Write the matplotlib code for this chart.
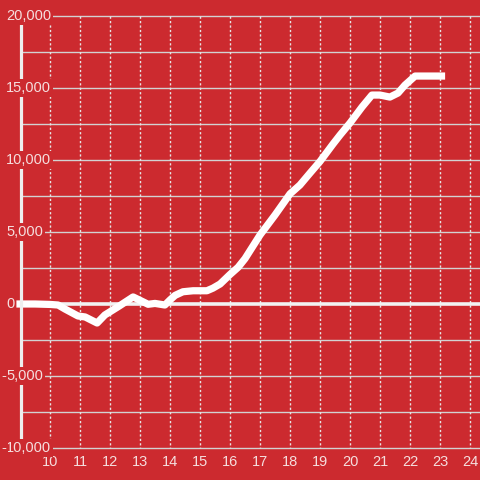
import matplotlib
matplotlib.use('Agg')
import matplotlib.pyplot as plt
import matplotlib.transforms as mtransforms
import numpy as np

plt.rcParams['font.family'] = ['Liberation Sans', 'DejaVu Sans']

# 时间 (小时) 和 累计值
hours = [9.0, 9.5, 10.0, 10.27, 10.5, 10.93, 11.17, 11.57, 11.83, 12.3,
         12.77, 13.27, 13.5, 13.83, 14.0, 14.17, 14.43, 14.77, 15.23, 15.43,
         15.67, 16.0, 16.27, 16.5, 17.0, 17.5, 18.0, 18.33, 18.67, 19.0,
         19.43, 19.67, 20.0, 20.4, 20.73, 21.0, 21.33, 21.6, 21.83, 22.17,
         23.05]
values = [0, 0, -30, -70, -350, -830, -900, -1320, -760, -150,
          490, -20, 40, -70, 280, 600, 850, 920, 920, 1100,
          1390, 2050, 2550, 3150, 4790, 6180, 7650, 8260, 9100, 9900,
          11100, 11740, 12570, 13680, 14510, 14510, 14370, 14650, 15200, 15830,
          15830]

x_ticks = list(range(10, 25))
y_labels = [20000, 15000, 10000, 5000, 0, -5000, -10000]
y_grid = [v for v in range(-10000, 20001, 2500) if v != 0]

bg = '#cc2a2f'
txt = '#f5dede'

fig = plt.figure(figsize=(4.8, 4.8), dpi=100, facecolor=bg)
ax = fig.add_axes([21 / 480, 30 / 480, 459 / 480, 436 / 480])
ax.set_facecolor(bg)

ax.set_xlim(9.033, 24.333)
ax.set_ylim(-10139, 20139)

# 网格
for v in y_grid:
    ax.axhline(v, color='#d2d2d2', lw=1.0, zorder=1)
ax.vlines(x_ticks, -10000, 20000, colors='#e6e6e6', lw=1.0,
          linestyles=(1, (1.6, 1.6)), zorder=1)
ax.axhline(0, color='#f2f2f2', lw=2.6, zorder=2)

ax.plot(hours, values, color='white', lw=5.2, zorder=3, clip_on=False,
        solid_joinstyle='round')

for s in ['top', 'right', 'bottom']:
    ax.spines[s].set_visible(False)
ax.spines['left'].set_color('#eeeeee')
ax.spines['left'].set_linewidth(2.3)
ax.spines['left'].set_bounds(-10000, 20000)
ax.spines['left'].set_zorder(4)

ax.set_yticks([])
ax.set_xticks(x_ticks)
ax.set_xticklabels([str(t) for t in x_ticks])
ax.tick_params(axis='x', length=0, pad=3.5, labelsize=10.5, labelcolor=txt)

# y轴标签 (带底色, 盖住轴线)
trans = mtransforms.blended_transform_factory(fig.transFigure, ax.transData)
x0 = 6.3 / 480
box = dict(boxstyle='square,pad=0.12', facecolor=bg, edgecolor='none')
for v in y_labels:
    label = '{:,}'.format(abs(v))
    ax.text(x0, v, label, transform=trans, ha='left', va='center',
            fontsize=10.5, color=txt, bbox=box, zorder=5, clip_on=False)
    if v < 0:
        ax.text(x0, v, '-', transform=trans, ha='right', va='center',
                fontsize=10.5, color=txt, bbox=box, zorder=5, clip_on=False)

fig.savefig('out.png', dpi=100, facecolor=bg)
